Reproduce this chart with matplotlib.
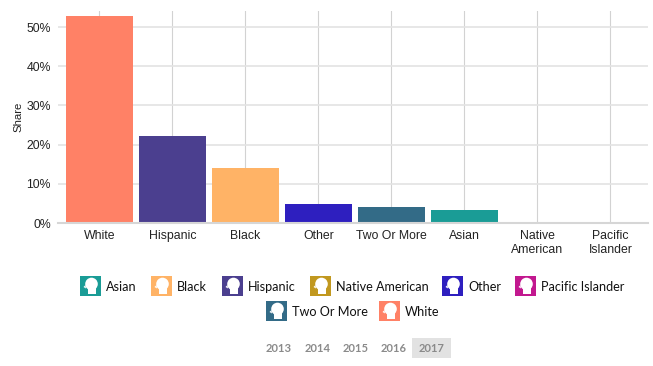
import matplotlib
matplotlib.use("Agg")
import matplotlib.pyplot as plt
from matplotlib.patches import Polygon, Rectangle, Circle

# chart data
categories = ["White", "Hispanic", "Black", "Other", "Two Or More", "Asian", "Native\nAmerican", "Pacific\nIslander"]
shares = [52.8, 22.2, 14.0, 4.8, 4.0, 3.2, 0.1, 0.1]
bar_colors = ["#FF8166", "#4B3F8F", "#FFB366", "#2E1FBF", "#336B87", "#1A9C96", "#C1981F", "#C2188F"]
y_ticks = [0, 10, 20, 30, 40, 50]

legend_names = ["Asian", "Black", "Hispanic", "Native American", "Other", "Pacific Islander", "Two Or More", "White"]
legend_colors = ["#1A9C96", "#FFB366", "#4B3F8F", "#C1981F", "#2E1FBF", "#C2188F", "#336B87", "#FF8166"]
legend_icon_x = [80, 151, 222, 310, 442, 515, 266, 379]
legend_row_y = [276, 276, 276, 276, 276, 276, 301, 301]

years = ["2013", "2014", "2015", "2016", "2017"]
year_x = [279, 317.5, 355.5, 393.5, 431.5]

W, H = 653, 366
plt.rcParams["font.family"] = ["Liberation Sans", "DejaVu Sans"]
fig = plt.figure(figsize=(W / 100, H / 100), dpi=100)

# main axes, placed in pixels
left, right, top, bottom = 58, 648, 11, 223
ax = fig.add_axes([left / W, 1 - bottom / H, (right - left) / W, (bottom - top) / H])
ax.set_xlim(-0.568, 7.514)
ax.set_ylim(0, (bottom - top) / 3.92)

ax.bar(range(len(categories)), shares, width=0.93, color=bar_colors, zorder=3)

ax.set_xticks(range(len(categories)))
ax.set_xticklabels(categories, fontsize=8.8, color="#222222", linespacing=1.25)
ax.set_yticks(y_ticks)
ax.set_yticklabels([f"{v}%" for v in y_ticks], fontsize=8.8, color="#222222")
ax.tick_params(axis="both", length=0, pad=5)
ax.grid(True, axis="y", color="#E3E3E3", linewidth=1.2, zorder=0)
ax.grid(True, axis="x", color="#D2D2D2", linewidth=0.8, zorder=1)
for side in ["top", "right", "left"]:
    ax.spines[side].set_visible(False)
ax.spines["bottom"].set_color("#D6D6D6")
ax.spines["bottom"].set_linewidth(1.5)
ax.spines["bottom"].set_zorder(4)
ax.set_ylabel("Share", fontsize=8.2, color="#222222")
ax.yaxis.set_label_coords((23 - left) / (right - left), 0.5)

# overlay in pixel coordinates for the legend and year selector
ov = fig.add_axes([0, 0, 1, 1], facecolor="none")
ov.set_xlim(0, W)
ov.set_ylim(H, 0)
ov.axis("off")


def head_icon(x, y, color):
    ov.add_patch(Rectangle((x, y), 21, 20, color=color, lw=0))
    ov.add_patch(Circle((x + 11.5, y + 8), 6.3, color="white", lw=0))
    ov.add_patch(Polygon([(x + 8, y + 10), (x + 16, y + 10), (x + 16, y + 18), (x + 8, y + 18)],
                         color="white", lw=0))
    ov.add_patch(Polygon([(x + 5.5, y + 9), (x + 3.5, y + 11), (x + 6, y + 12.5)], color="white", lw=0))


for name, color, ix, iy in zip(legend_names, legend_colors, legend_icon_x, legend_row_y):
    head_icon(ix, iy, color)
    ov.text(ix + 26, iy + 11, name, fontsize=9.1, family="Lato", color="#111111", va="center", ha="left")

# year selector
ov.add_patch(Rectangle((412, 338), 39, 20, color="#E2E2E2", lw=0))
for year, x in zip(years, year_x):
    ov.text(x, 348.5, year, fontsize=8, family="Lato", fontweight="bold", color="#8A8A8A", va="center", ha="center")

fig.savefig("out.png", dpi=100)
